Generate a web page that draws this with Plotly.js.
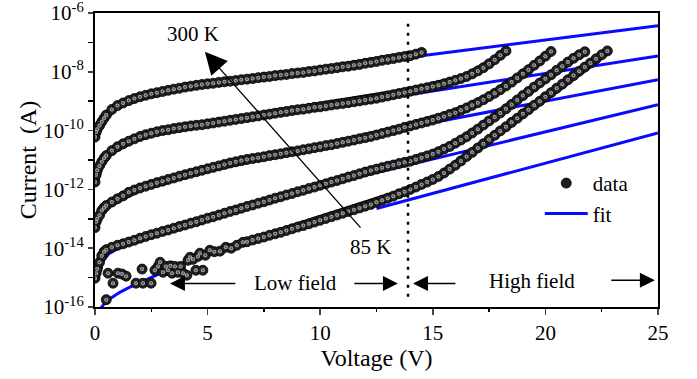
<!DOCTYPE html>
<html>
<head>
<meta charset="utf-8">
<script src="https://cdn.plot.ly/plotly-3.0.1.min.js"></script>
<style>html,body{margin:0;padding:0;background:#fff;}#chart{width:697px;height:379px;}</style>
</head>
<body>
<div id="chart"></div>
<script>
// Voltage grid (V) shared by the four upper curves
const voltage = [0,0.05,0.1,0.2,0.3,0.4,0.5,0.75,1,1.25,1.5,1.75,2,2.25,2.5,2.75,3,3.25,3.5,3.75,4,4.25,4.5,4.75,5,5.25,5.5,5.75,6,6.25,6.5,6.75,7,7.25,7.5,7.75,8,8.25,8.5,8.75,9,9.25,9.5,9.75,10,10.25,10.5,10.75,11,11.25,11.5,11.75,12,12.25,12.5,12.75,13,13.25,13.5,13.75,14,14.25,14.5,14.75,15,15.25,15.5,15.75,16,16.25,16.5,16.75,17,17.25,17.5,17.75,18,18.25,18.5,18.75,19,19.25,19.5,19.75,20,20.25,20.5,20.75,21,21.25,21.5,21.75,22,22.25,22.5,22.75];

// log10(Current / A)
const logI_300K = [-10.22,-10.05,-9.95,-9.83,-9.70,-9.58,-9.47,-9.28,-9.15,-9.06,-8.98,-8.91,-8.85,-8.80,-8.75,-8.71,-8.67,-8.63,-8.59,-8.56,-8.52,-8.49,-8.46,-8.43,-8.41,-8.39,-8.36,-8.34,-8.32,-8.30,-8.27,-8.25,-8.23,-8.20,-8.18,-8.16,-8.13,-8.11,-8.09,-8.06,-8.04,-8.02,-7.99,-7.97,-7.94,-7.91,-7.89,-7.86,-7.83,-7.81,-7.78,-7.75,-7.71,-7.68,-7.65,-7.61,-7.58,-7.55,-7.51,-7.48,-7.45,-7.40,-7.34];
const logI_T2 = [-11.75,-11.50,-11.35,-11.20,-11.06,-10.94,-10.85,-10.68,-10.55,-10.45,-10.36,-10.28,-10.20,-10.14,-10.09,-10.04,-10.00,-9.97,-9.93,-9.90,-9.87,-9.84,-9.82,-9.80,-9.77,-9.74,-9.71,-9.68,-9.65,-9.62,-9.59,-9.56,-9.53,-9.50,-9.47,-9.44,-9.41,-9.38,-9.35,-9.32,-9.29,-9.27,-9.24,-9.21,-9.19,-9.16,-9.13,-9.10,-9.08,-9.05,-9.02,-8.99,-8.96,-8.93,-8.90,-8.86,-8.82,-8.78,-8.74,-8.70,-8.66,-8.62,-8.58,-8.54,-8.50,-8.46,-8.41,-8.35,-8.29,-8.23,-8.16,-8.07,-7.97,-7.86,-7.73,-7.59,-7.44,-7.29];
const logI_T3 = [-13.30,-13.10,-13.00,-12.88,-12.72,-12.62,-12.55,-12.43,-12.32,-12.22,-12.10,-12.02,-11.95,-11.89,-11.83,-11.77,-11.72,-11.66,-11.61,-11.55,-11.50,-11.45,-11.40,-11.35,-11.30,-11.25,-11.20,-11.15,-11.10,-11.06,-11.02,-10.98,-10.95,-10.92,-10.89,-10.85,-10.82,-10.79,-10.75,-10.72,-10.69,-10.65,-10.62,-10.58,-10.55,-10.51,-10.48,-10.44,-10.40,-10.36,-10.32,-10.28,-10.24,-10.20,-10.15,-10.10,-10.05,-10.00,-9.95,-9.89,-9.84,-9.79,-9.74,-9.69,-9.64,-9.58,-9.52,-9.45,-9.39,-9.31,-9.23,-9.14,-9.05,-8.95,-8.84,-8.73,-8.61,-8.48,-8.35,-8.21,-8.07,-7.93,-7.78,-7.63,-7.47,-7.31];
const logI_T4 = [-15.02,-14.85,-14.70,-14.48,-14.26,-14.12,-14.05,-13.97,-13.90,-13.85,-13.79,-13.73,-13.66,-13.60,-13.54,-13.49,-13.43,-13.38,-13.32,-13.26,-13.21,-13.15,-13.10,-13.04,-12.98,-12.93,-12.87,-12.81,-12.75,-12.70,-12.64,-12.58,-12.53,-12.47,-12.42,-12.36,-12.30,-12.25,-12.19,-12.14,-12.08,-12.03,-11.97,-11.92,-11.86,-11.81,-11.75,-11.70,-11.64,-11.58,-11.53,-11.47,-11.41,-11.36,-11.31,-11.26,-11.21,-11.17,-11.12,-11.08,-11.04,-10.98,-10.92,-10.86,-10.80,-10.72,-10.63,-10.54,-10.43,-10.32,-10.21,-10.08,-9.95,-9.81,-9.67,-9.54,-9.40,-9.26,-9.11,-8.96,-8.81,-8.67,-8.52,-8.38,-8.24,-8.10,-7.95,-7.81,-7.67,-7.54,-7.42,-7.32];

// 85 K curve (noisy at low field) has its own voltages
const voltage_85K = [0.50,0.58,0.80,1.02,1.20,1.38,1.82,2.09,2.13,2.49,2.66,2.80,2.89,3.02,3.15,3.24,3.35,3.42,3.55,3.68,3.80,3.91,4.08,4.13,4.22,4.35,4.48,4.57,4.66,4.79,4.90,5.10,5.30,5.55,5.81,6.05,6.30,6.57,6.75,7,7.25,7.5,7.75,8,8.25,8.5,8.75,9,9.25,9.5,9.75,10,10.25,10.5,10.75,11,11.25,11.5,11.75,12,12.25,12.5,12.75,13,13.25,13.5,13.75,14,14.25,14.5,14.75,15,15.25,15.5,15.75,16,16.25,16.5,16.75,17,17.25,17.5,17.75,18,18.25,18.5,18.75,19,19.25,19.5,19.75,20,20.25,20.5,20.75,21,21.25,21.5,21.75,22,22.25,22.5,22.75];
const logI_85K = [-15.75,-14.85,-15.19,-14.85,-14.88,-14.95,-15.19,-14.71,-15.19,-15.19,-14.75,-14.62,-14.48,-14.82,-14.62,-14.75,-14.60,-14.85,-14.62,-14.82,-14.62,-14.85,-14.92,-14.41,-14.31,-14.38,-14.75,-14.28,-14.17,-14.75,-14.24,-14.07,-14.12,-14.10,-13.97,-14.00,-13.90,-13.80,-13.78,-13.72,-13.67,-13.62,-13.56,-13.51,-13.46,-13.40,-13.34,-13.28,-13.23,-13.17,-13.11,-13.05,-12.99,-12.93,-12.87,-12.81,-12.75,-12.69,-12.63,-12.57,-12.51,-12.44,-12.37,-12.30,-12.23,-12.15,-12.08,-12.00,-11.92,-11.83,-11.75,-11.66,-11.56,-11.44,-11.31,-11.18,-11.03,-10.88,-10.74,-10.59,-10.45,-10.30,-10.16,-10.01,-9.87,-9.72,-9.58,-9.43,-9.29,-9.14,-9.00,-8.85,-8.71,-8.56,-8.42,-8.27,-8.13,-7.98,-7.84,-7.70,-7.56,-7.42,-7.29];

// Low-field fits
const lowFitV_123 = [0.05,0.2,0.5,1,2,3];
const lowFit_300K = [-10.15,-9.85,-9.47,-9.16,-8.85,-8.67];
const lowFit_T2 = [-11.55,-11.20,-10.85,-10.56,-10.21,-10.01];
const lowFit_T3 = [-13.12,-12.88,-12.56,-12.33,-11.96,-11.73];
const lowFitV_T4 = [0.1,0.2,0.35,0.6,1,1.5,2,3];
const lowFit_T4 = [-15.10,-14.80,-14.45,-14.20,-14.02,-13.85,-13.68,-13.45];
const lowFitV_85K = [0.25,0.45,0.7,1.1,1.5,2.0,2.5,3.0,3.5,3.9,4.5];
const lowFit_85K = [-16.05,-15.85,-15.70,-15.50,-15.34,-15.17,-15.00,-14.83,-14.65,-14.50,-14.30];

// High-field fits
const highFitV = [12.5,25];
const highFit_300K = [-7.65,-6.43];
const highFit_T2 = [-8.95,-7.46];
const highFit_T3 = [-10.09,-8.27];
const highFit_T4 = [-11.43,-9.12];
const highFit_85K = [-12.65,-10.08];

const boundaryV = 13.9;
const yLabelExp = [-16,-14,-12,-10,-8,-6];
const yMinorExp = [-15,-13,-11,-9,-7];
const xTicks = [0,5,10,15,20,25];

const toA = a => a.map(v => Math.pow(10, v));
const FONT = 'Liberation Serif, Times New Roman, serif';
const BLUE = '#0a0aff';

const traces = [];
function fit(xs, ls, show) {
  traces.push({x: xs, y: toA(ls), mode: 'lines', line: {color: BLUE, width: 3},
    name: 'fit', showlegend: !!show, legendrank: 2, hoverinfo: 'skip'});
}
fit(lowFitV_123, lowFit_300K, true);
fit(lowFitV_123, lowFit_T2);
fit(lowFitV_123, lowFit_T3);
fit(lowFitV_T4, lowFit_T4);
fit(lowFitV_85K, lowFit_85K);
fit(highFitV, highFit_300K);
fit(highFitV, highFit_T2);
fit(highFitV, highFit_T3);
fit(highFitV, highFit_T4);
fit(highFitV, highFit_85K);

const beadStyle = {size: 10, color: '#202020', line: {color: '#000', width: 0.8}};
const shineStyle = {size: 4, color: '#c8c8c8', gradient: {type: 'radial', color: '#303030'}, line: {width: 0}};
function data(xs, ls, lineFrom, show) {
  traces.push({x: xs.slice(lineFrom), y: toA(ls.slice(lineFrom)), mode: 'lines',
    line: {color: '#111', width: 8}, showlegend: false, hoverinfo: 'skip'});
  traces.push({x: xs, y: toA(ls), mode: 'markers', marker: beadStyle,
    name: 'data', showlegend: !!show, legendrank: 1});
  traces.push({x: xs, y: toA(ls), mode: 'markers', marker: shineStyle,
    showlegend: false, hoverinfo: 'skip'});
}
data(voltage.slice(0, logI_300K.length), logI_300K, 0, true);
data(voltage.slice(0, logI_T2.length), logI_T2, 0);
data(voltage.slice(0, logI_T3.length), logI_T3, 0);
data(voltage.slice(0, logI_T4.length), logI_T4, 0);
data(voltage_85K, logI_85K, voltage_85K.findIndex(v => v >= 6.5));

function arrow(xTip, yTip, xTail, yTail, size) {
  return {x: xTip, y: yTip, ax: xTail, ay: yTail, xref: 'x', yref: 'y', axref: 'x', ayref: 'y',
    text: '', showarrow: true, arrowhead: 2, arrowsize: size, arrowwidth: 1.3, arrowcolor: '#000', standoff: 0, startstandoff: 0};
}
function label(txt, x, y) {
  return {x: x, y: y, xref: 'x', yref: 'y', text: txt, showarrow: false,
    font: {family: FONT, size: 21, color: '#000'}};
}

const layout = {
  width: 697, height: 379,
  margin: {l: 95, r: 39, t: 13, b: 72},
  paper_bgcolor: '#fff', plot_bgcolor: '#fff',
  font: {family: FONT, size: 21, color: '#000'},
  showlegend: true,
  legend: {x: 0.79, y: 0.49, xanchor: 'left', yanchor: 'top', bgcolor: 'rgba(0,0,0,0)',
    font: {family: FONT, size: 21}, itemwidth: 43, tracegroupgap: 0},
  xaxis: {range: [0, 25], tickvals: xTicks, ticks: 'outside', ticklen: 6, tickwidth: 1.5,
    minor: {dtick: 2.5, ticks: 'outside', ticklen: 3, tickwidth: 1.5, tickcolor: '#000'},
    showline: true, mirror: true, linewidth: 2, linecolor: '#000', showgrid: false, zeroline: false,
    tickfont: {family: FONT, size: 21}, ticklabeloverflow: 'allow',
    title: {text: 'Voltage (V)', font: {family: FONT, size: 24}, standoff: 4}},
  yaxis: {type: 'log', range: [-16, -6], tickvals: toA(yLabelExp),
    ticktext: yLabelExp.map(e => '10<sup>' + e + '</sup>'),
    ticks: 'outside', ticklen: 5, tickwidth: 1.5, ticklabeloverflow: 'allow',
    minor: {tickmode: 'array', tickvals: toA(yMinorExp), ticks: 'outside', ticklen: 5, tickwidth: 1.5, tickcolor: '#000'},
    showline: true, mirror: true, linewidth: 2, linecolor: '#000', showgrid: false, zeroline: false,
    tickfont: {family: FONT, size: 21},
    title: {text: 'Current\u00a0\u00a0(A)', font: {family: FONT, size: 24}, standoff: 0}},
  shapes: [{type: 'line', xref: 'x', yref: 'paper', x0: boundaryV, x1: boundaryV, y0: 0.035, y1: 0.97,
    line: {color: '#000', width: 2.5, dash: '3px,6px'}}],
  annotations: [
    label('300 K', 4.35, -6.72),
    label('85 K', 12.25, -13.97),
    arrow(4.88, -7.32, 11.85, -13.35, 3.4),
    label('Low field', 8.9, -15.2),
    arrow(3.33, -15.2, 6.3, -15.2, 2.3),
    arrow(13.45, -15.2, 11.45, -15.2, 2.3),
    label('High field', 19.4, -15.13),
    arrow(14.12, -15.2, 16.07, -15.2, 2.3),
    arrow(24.86, -15.09, 22.86, -15.09, 2.3)
  ]
};

Plotly.newPlot('chart', traces, layout, {displayModeBar: false, staticPlot: true});
</script>
</body>
</html>
